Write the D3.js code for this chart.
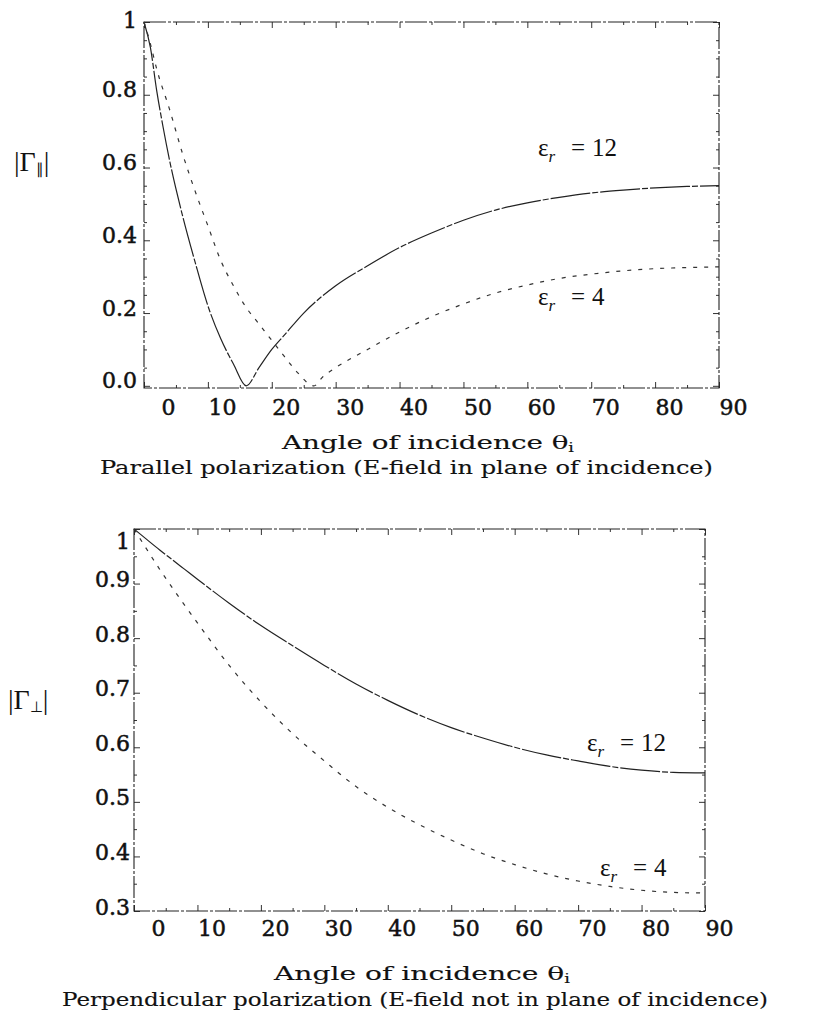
<!DOCTYPE html>
<html><head><meta charset="utf-8">
<script src="https://cdn.jsdelivr.net/npm/d3@7"></script>
<style>body{margin:0;background:#fff}svg{display:block}</style>
</head><body>
<svg id="c" width="814" height="1021"></svg>
<script>
// ---- data ----
const xTicks = [0,10,20,30,40,50,60,70,80,90];
const yTicksPar = [0,0.2,0.4,0.6,0.8,1];
const yTicksPerp = [0.3,0.4,0.5,0.6,0.7,0.8,0.9,1];

const parAngles12 = [0,1,2,3,4,6,8,10,12,14,16,18,20,22,25,30,35,40,45,50,55,60,65,70,75,80,85,90];
const par12 = [1.0,0.93,0.81,0.71,0.62,0.47,0.34,0.22,0.13,0.06,0.0,0.05,0.1,0.14,0.2,0.275,0.33,0.38,0.42,0.455,0.483,0.503,0.518,0.53,0.538,0.544,0.548,0.55];

const parAngles4 = [0,1,2,4,6,8,10,12,14,16,18,20,22,24,26.6,28,30,35,40,45,50,55,60,65,70,75,80,85,90];
const par4 = [1.0,0.94,0.87,0.76,0.64,0.535,0.44,0.345,0.275,0.215,0.17,0.125,0.08,0.037,0.0,0.025,0.05,0.1,0.148,0.19,0.225,0.255,0.277,0.295,0.307,0.316,0.322,0.325,0.327];

const perpAngles = [0,2,4,6,8,10,15,20,25,30,35,40,45,50,55,60,65,70,75,80,85,90];
const perp12 = [1.0,0.981,0.962,0.944,0.926,0.908,0.864,0.823,0.786,0.75,0.716,0.686,0.659,0.636,0.617,0.6,0.586,0.575,0.565,0.558,0.554,0.553];
const perp4 = [1.0,0.963,0.927,0.893,0.86,0.828,0.75,0.683,0.625,0.575,0.528,0.49,0.458,0.43,0.405,0.385,0.368,0.355,0.345,0.338,0.334,0.333];

const seriesLabels = ["12","4"];

// ---- drawing ----
const svg = d3.select("#c");
const SERIF = "'DejaVu Serif', serif";
const TIMES = "'Liberation Serif', serif";

function panel(o){
  const g = svg.append("g");
  const x = d3.scaleLinear().domain([0,90]).range([o.left,o.right]);
  const y = d3.scaleLinear().domain(o.yDomain).range([o.bottom,o.top]);

  const minorX = d3.range(0,91,5).filter(d=>d%10!==0);
  const stroke = "#333";
  const ax = (axis, tr) => {
    const a = g.append("g").attr("transform",tr).call(axis);
    a.select(".domain").remove();
    a.selectAll("line").attr("stroke",stroke).attr("stroke-width",1);
    return a;
  };
  ax(d3.axisBottom(x).tickValues(minorX).tickSizeInner(-3).tickSizeOuter(0).tickFormat(""), `translate(0,${o.bottom})`);
  ax(d3.axisTop(x).tickValues(minorX).tickSizeInner(-3).tickSizeOuter(0).tickFormat(""), `translate(0,${o.top})`);
  ax(d3.axisLeft(y).tickValues(o.yMinor).tickSizeInner(-3).tickSizeOuter(0).tickFormat(""), `translate(${o.left},0)`);
  ax(d3.axisRight(y).tickValues(o.yMinor).tickSizeInner(-3).tickSizeOuter(0).tickFormat(""), `translate(${o.right},0)`);

  const bx = ax(d3.axisBottom(x).tickValues(xTicks).tickSizeInner(-6).tickSizeOuter(0).tickPadding(0).tickFormat(d3.format("d")), `translate(0,${o.bottom})`);
  bx.selectAll("text").attr("y",o.xLabelY).attr("dy",0).attr("dx",d=>d===0?24:14)
    .attr("font-family",SERIF).attr("font-size",22).attr("fill","#111").attr("stroke","#111").attr("stroke-width",0.5);
  ax(d3.axisTop(x).tickValues(xTicks).tickSizeInner(-6).tickSizeOuter(0).tickFormat(""), `translate(0,${o.top})`);
  const ly = ax(d3.axisLeft(y).tickValues(o.yTicks).tickSizeInner(-6).tickSizeOuter(0).tickPadding(o.yPad)
      .tickFormat(d=>d===1?"1":d3.format(".1f")(d)), `translate(${o.left},0)`);
  ly.selectAll("text").attr("y",d=>d===1?o.oneShift:o.yLabelShift)
    .attr("font-family",SERIF).attr("font-size",22).attr("fill","#111").attr("stroke","#111").attr("stroke-width",0.5);
  ax(d3.axisRight(y).tickValues(o.yTicks).tickSizeInner(-6).tickSizeOuter(0).tickFormat(""), `translate(${o.right},0)`);

  // frame
  g.append("rect").attr("x",o.left).attr("y",o.top).attr("width",o.right-o.left).attr("height",o.bottom-o.top)
    .attr("fill","none").attr("stroke","#222").attr("stroke-width",1.1).attr("stroke-dasharray","22,2,3,2");

  const line = d3.line().x(d=>x(d[0])).y(d=>y(d[1])).curve(d3.curveMonotoneX);
  g.append("path").datum(d3.zip(o.a12,o.v12)).attr("d",line).attr("fill","none")
    .attr("stroke","#222").attr("stroke-width",1.2).attr("stroke-dasharray","40,2,6,2");
  g.append("path").datum(d3.zip(o.a4,o.v4)).attr("d",line).attr("fill","none")
    .attr("stroke","#333").attr("stroke-width",1.2).attr("stroke-dasharray","4,7");

  // series labels
  o.legend.forEach((L,i)=>{
    const t = g.append("text").attr("x",L[0]).attr("y",L[1]).attr("font-family",TIMES).attr("font-size",25).attr("fill","#111");
    t.append("tspan").text("ε");
    t.append("tspan").attr("font-size",17).attr("font-style","italic").attr("dy",6).text("r");
    t.append("tspan").attr("dy",-6).attr("x",L[0]+33).text("=");
    t.append("tspan").attr("x",L[0]+54).text(seriesLabels[i]);
  });

  // y label
  const yl = g.append("text").attr("x",o.yl[0]).attr("y",o.yl[1]).attr("font-family",TIMES).attr("font-size",28).attr("fill","#111");
  yl.append("tspan").text("|Γ");
  yl.append("tspan").attr("font-size",15).attr("dy",3).text(o.ysub);
  yl.append("tspan").attr("dy",-3).text("|");

  // titles
  const t1 = g.append("text").attr("x",o.t1[0]).attr("y",o.t1[1]).attr("font-family",SERIF).attr("font-size",19)
    .attr("fill","#111").attr("stroke","#111").attr("stroke-width",0.15)
    .attr("textLength",o.t1[2]).attr("lengthAdjust","spacingAndGlyphs");
  t1.append("tspan").text("Angle of incidence θ");
  t1.append("tspan").attr("font-size",12).attr("dy",3).text("i");
  g.append("text").attr("x",o.t2[0]).attr("y",o.t2[1]).attr("font-family",SERIF).attr("font-size",19)
    .attr("fill","#111").attr("stroke","#111").attr("stroke-width",0.15)
    .attr("textLength",o.t2[2]).attr("lengthAdjust","spacingAndGlyphs").text(o.t2[3]);
}

panel({left:144,right:719,top:22,bottom:388,yDomain:[-0.006,1.0],yTicks:yTicksPar,yMinor:d3.range(0,1.0001,0.05).filter(v=>Math.round(v*100)%20!==0),
  yPad:7,yLabelShift:-5,oneShift:-2,xLabelY:27,a12:parAngles12,v12:par12,a4:parAngles4,v4:par4,
  legend:[[538,156],[538,305]],yl:[14,171],ysub:"∥",
  t1:[282,449,292],t2:[100,474,613,"Parallel polarization (E-field in plane of incidence)"]});

panel({left:134,right:705,top:529,bottom:911,yDomain:[0.3,1.0],yTicks:yTicksPerp,yMinor:d3.range(0.3,1.0001,0.05).filter(v=>Math.round(v*100)%10!==0),
  yPad:4,yLabelShift:-4,oneShift:12,xLabelY:25,a12:perpAngles,v12:perp12,a4:perpAngles,v4:perp4,
  legend:[[587,751],[600,876]],yl:[8,709],ysub:"⊥",
  t1:[274,980,296],t2:[62,1006,706,"Perpendicular polarization (E-field not in plane of incidence)"]});
</script>
</body></html>
